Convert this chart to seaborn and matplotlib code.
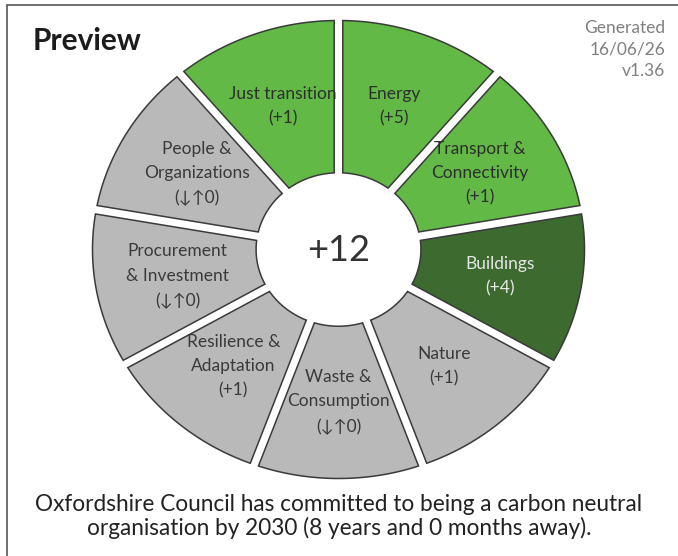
import numpy as np
import matplotlib
matplotlib.use("Agg")
import matplotlib.pyplot as plt
import seaborn as sns
from matplotlib.patches import Polygon

# ---- data ----
categories = ["Energy", "Transport &\nConnectivity", "Buildings", "Nature",
              "Waste &\nConsumption", "Resilience &\nAdaptation",
              "Procurement\n& Investment", "People &\nOrganizations",
              "Just transition"]
changes = [5, 1, 4, 1, 0, 1, 0, 0, 1]
status = ["active", "active", "leading", "none", "none", "none", "none", "none", "active"]
weights = [1, 1, 1, 1, 1, 1, 1, 1, 1]
total_label = "+12"
title = "Preview"
meta_lines = ["Generated", "16/06/26", "v1.36"]
footer = ("Oxfordshire Council has committed to being a carbon neutral\n"
          "organisation by 2030 (8 years and 0 months away).")

palette = {"active": "#62b946", "leading": "#3d6a2f", "none": "#b9b9b9"}
text_col = {"active": "#2e2e2e", "leading": "#e6e6e6", "none": "#3a3a3a"}

sns.set_theme(style="white")
plt.rcParams["font.family"] = ["Lato", "DejaVu Sans"]

W, H = 678, 556
fig = plt.figure(figsize=(W / 100, H / 100), dpi=100)
ax = fig.add_axes([0, 0, 1, 1])
ax.set_xlim(0, W)
ax.set_ylim(H, 0)
ax.axis("off")

cx, cy = 338.5, 249.5
Rx, Ry = 246.0, 229.0
inner = 0.335
h = 4.3  # half gap in px


def corner(theta_deg, a, b, side):
    t = np.radians(theta_deg)
    d = np.array([Rx * np.cos(t), Ry * np.sin(t)])
    d /= np.linalg.norm(d)
    if side == "start":
        n = np.array([d[1], -d[0]])
    else:
        n = np.array([-d[1], d[0]])
    A = d[0] ** 2 / a ** 2 + d[1] ** 2 / b ** 2
    B = 2 * h * (n[0] * d[0] / a ** 2 + n[1] * d[1] / b ** 2)
    C = h ** 2 * (n[0] ** 2 / a ** 2 + n[1] ** 2 / b ** 2) - 1
    s = (-B + np.sqrt(B * B - 4 * A * C)) / (2 * A)
    p = h * n + s * d
    tp = np.degrees(np.arctan2(p[1] / b, p[0] / a))
    tp = theta_deg + ((tp - theta_deg + 180) % 360 - 180)
    return tp


def arc(a, b, t0, t1, n=80):
    ts = np.radians(np.linspace(t0, t1, n))
    return np.column_stack([cx + a * np.cos(ts), cy - b * np.sin(ts)])


frac = np.cumsum([0] + weights) / sum(weights)
for i, cat in enumerate(categories):
    ts = 90 - 360 * frac[i]
    te = 90 - 360 * frac[i + 1]
    a_o, b_o = Rx, Ry
    a_i, b_i = Rx * inner, Ry * inner
    tso = corner(ts, a_o, b_o, "start")
    teo = corner(te, a_o, b_o, "end")
    tsi = corner(ts, a_i, b_i, "start")
    tei = corner(te, a_i, b_i, "end")
    pts = np.vstack([arc(a_o, b_o, tso, teo), arc(a_i, b_i, tei, tsi)])
    ax.add_patch(Polygon(pts, closed=True, facecolor=palette[status[i]],
                         edgecolor="#3a3a3a", linewidth=1.1, joinstyle="miter",
                         zorder=2))
    mid = np.radians((ts + te) / 2)
    lx = cx + 0.665 * Rx * np.cos(mid)
    ly = cy - 0.665 * Ry * np.sin(mid)
    v = changes[i]
    chg = f"(+{v})" if v > 0 else ("(↓↑0)" if v == 0 else f"({v})")
    ax.text(lx, ly, cat + "\n" + chg, ha="center", va="center",
            fontsize=12.5, color=text_col[status[i]], linespacing=1.65,
            zorder=5)

ax.text(cx, cy + 1, total_label, ha="center", va="center", fontsize=26,
        color="#333333", fontweight="normal", zorder=5)

ax.text(33, 41, title, ha="left", va="center", fontsize=21.5,
        fontweight="bold", color="#1c1c1c")
for k, line in enumerate(meta_lines):
    ax.text(665, 28 + 21.5 * k, line, ha="right", va="center", fontsize=12.5,
            color="#808080")

ax.text(339, 516.5, footer, ha="center", va="center", fontsize=16.3,
        color="#222222", linespacing=1.08)

# frame
ax.plot([7, 7, W], [H, 5, 5], color="#555555", lw=1.2, solid_joinstyle="miter")

fig.savefig("out.png", dpi=100)
